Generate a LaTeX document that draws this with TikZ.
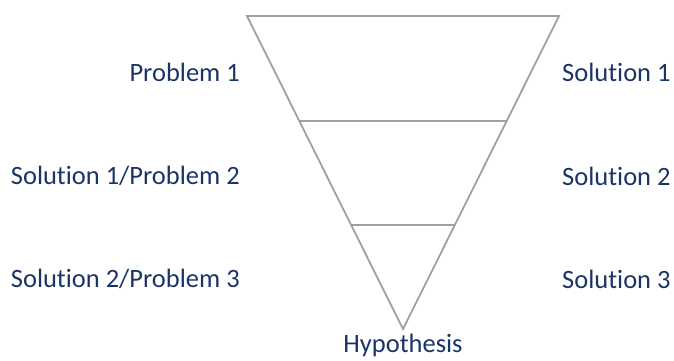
\documentclass[tikz,border=0pt]{standalone}
\usepackage{fontspec}
\setmainfont{Carlito}[Ligatures=NoCommon]
\usepackage{tikz}
\usetikzlibrary{positioning, calc}
\definecolor{navytext}{HTML}{1B3468}
\definecolor{funnelgray}{HTML}{A0A0A0}

\begin{document}
\begin{tikzpicture}[
		x=1pt, y=-1pt,
		lbl/.style={text=navytext, font=\fontsize{26.5}{30}\selectfont, inner sep=0pt},
		edge/.style={draw=funnelgray, line width=1.8pt}
	]
		\useasboundingbox (0,0) rectangle (674,361);
		% funnel
		\coordinate (tl) at (247,16);
		\coordinate (tr) at (559,16);
		\coordinate (tip) at (403,329);
		\draw[edge, line join=miter] (tl) -- (tr) -- (tip) -- cycle;
		\draw[edge] ($(tl)!0.335!(tip)$) -- ($(tr)!0.335!(tip)$);
		\draw[edge] ($(tl)!0.667!(tip)$) -- ($(tr)!0.667!(tip)$);

		% left labels
		\node[lbl, anchor=east] (p1) at (240,72) {Problem 1};
		\node[lbl, anchor=east] (sp2) at (240,176) {Solution 1/Problem 2};
		\node[lbl, anchor=east] (sp3) at (240,279) {Solution 2/Problem 3};
		% right labels
		\node[lbl, anchor=west] (s1) at (562,72) {Solution 1};
		\node[lbl, anchor=west] (s2) at (562,176) {Solution 2};
		\node[lbl, anchor=west] (s3) at (562,279) {Solution 3};
		\node[lbl, below=5pt of tip] (hyp) {Hypothesis};
	\end{tikzpicture}
\end{document}
